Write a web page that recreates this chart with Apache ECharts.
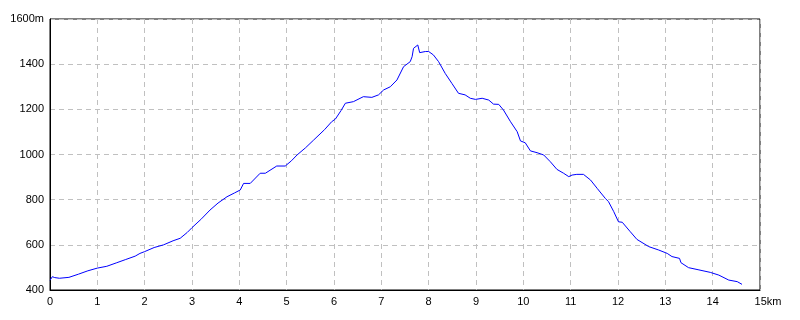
<!DOCTYPE html>
<html><head><meta charset="utf-8">
<script src="https://cdn.jsdelivr.net/npm/echarts@6/dist/echarts.min.js"></script>
<style>html,body{margin:0;padding:0;background:#fff}#c{width:800px;height:320px}</style>
</head><body><div id="c"></div>
<script>
const distanceKm = [0,0.05,0.1,0.2,0.4,0.6,0.8,1.0,1.2,1.4,1.6,1.8,1.9,2.0,2.2,2.4,2.6,2.75,2.9,3.0,3.2,3.38,3.55,3.74,3.9,4.02,4.09,4.23,4.44,4.55,4.79,4.97,5.1,5.22,5.4,5.57,5.8,5.95,6.03,6.15,6.24,6.41,6.62,6.8,6.94,7.05,7.19,7.33,7.47,7.61,7.65,7.68,7.77,7.81,7.93,8.0,8.1,8.21,8.35,8.49,8.63,8.77,8.88,8.99,9.13,9.27,9.37,9.48,9.58,9.73,9.87,9.94,10.04,10.15,10.29,10.43,10.57,10.71,10.85,10.96,11.03,11.13,11.27,11.42,11.56,11.73,11.8,11.91,12.01,12.09,12.26,12.4,12.65,12.86,13.04,13.14,13.3,13.33,13.49,13.71,13.95,14.13,14.34,14.52,14.62];
const elevationM = [443,459,455,452,456,470,485,497,505,520,535,550,562,570,588,600,618,629,655,676,715,754,785,813,830,843,872,872,917,917,949,949,972,998,1030,1064,1110,1145,1157,1195,1227,1234,1256,1253,1264,1286,1300,1330,1389,1411,1433,1470,1485,1451,1456,1456,1441,1411,1359,1315,1271,1264,1249,1244,1249,1241,1223,1222,1197,1145,1101,1060,1052,1016,1008,998,968,934,917,902,909,912,912,887,850,806,791,747,702,700,658,624,592,577,562,548,540,521,499,489,478,466,444,437,425];
const xTicks = {min:0, max:15, step:1, unit:'km'};
const yTicks = {min:400, max:1600, step:200, unit:'m'};

const data = distanceKm.map((d,i)=>[d, elevationM[i]]);
const chart = echarts.init(document.getElementById('c'), null, {renderer:'canvas'});
const font = 'Liberation Sans';
chart.setOption({
  animation:false,
  backgroundColor:'#fff',
  grid:{left:50, top:19, width:710, height:271, show:true, borderColor:'#000', borderWidth:1},
  xAxis:{type:'value', min:xTicks.min, max:xTicks.max, interval:xTicks.step,
    axisLine:{lineStyle:{color:'#000'}}, axisTick:{show:false},
    splitLine:{show:true, lineStyle:{color:'#c0c0c0', type:[5,4]}},
    axisLabel:{color:'#000', fontFamily:font, fontSize:11, margin:6,
      formatter:v=> v===xTicks.max ? '{u|'+v+xTicks.unit+'}' : String(v),
      rich:{u:{color:'#000', fontFamily:font, fontSize:11, padding:[0,0,0,16]}}}},
  yAxis:{type:'value', min:yTicks.min, max:yTicks.max, interval:yTicks.step,
    axisLine:{show:true, lineStyle:{color:'#000'}}, axisTick:{show:false},
    splitLine:{show:true, lineStyle:{color:'#c0c0c0', type:[5,4]}},
    axisLabel:{color:'#000', fontFamily:font, fontSize:11, margin:6,
      formatter:v=> v===yTicks.max ? v+yTicks.unit : String(v)}},
  series:[{type:'line', data:data, showSymbol:false, symbol:'none',
    lineStyle:{color:'#0000ff', width:1}}]
});
</script></body></html>
